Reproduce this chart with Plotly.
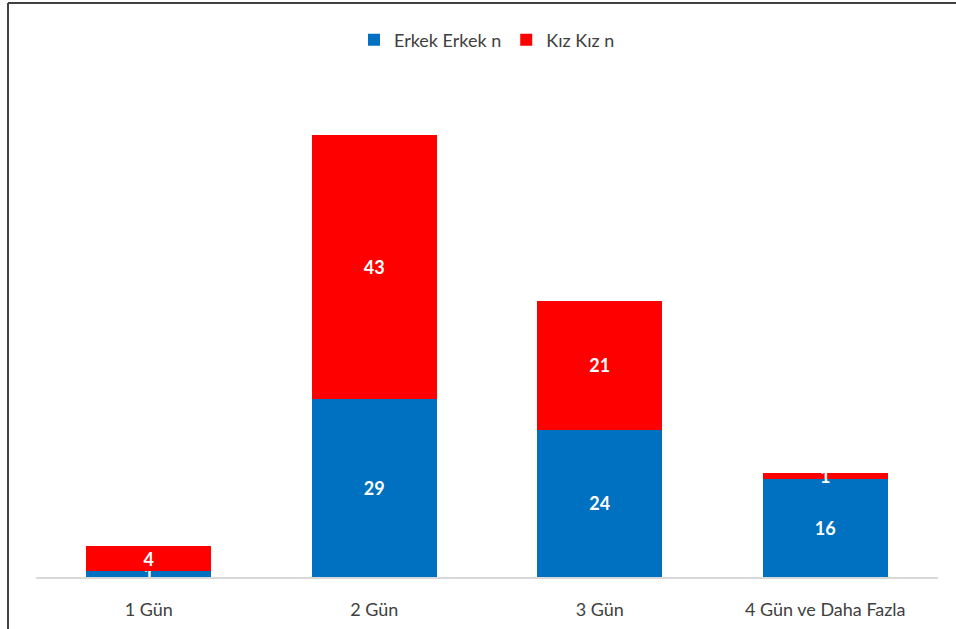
import plotly.graph_objects as go

categories = ["1 Gün", "2 Gün", "3 Gün", "4 Gün ve Daha Fazla"]
erkek = [1, 29, 24, 16]
kiz = [4, 43, 21, 1]
series_names = ["Erkek Erkek n", "Kız Kız n"]
colors = ["#0070C0", "#FF0000"]

fig = go.Figure()
for name, vals, col in zip(series_names, [erkek, kiz], colors):
    fig.add_trace(go.Bar(
        x=categories, y=vals, name=name,
        marker=dict(color=col, line=dict(width=0)),
        text=[str(v) for v in vals],
        textposition="inside", insidetextanchor="middle",
        constraintext="none", textangle=0,
        textfont=dict(family="Lato", size=18, color="white", weight="bold"),
    ))

fig.update_layout(
    barmode="stack", bargap=0.446,
    width=956, height=629,
    margin=dict(l=36, r=18, t=86, b=52, autoexpand=False),
    plot_bgcolor="white", paper_bgcolor="white",
    font=dict(family="Lato", size=18, color="#404040"),
    legend=dict(orientation="h", x=0.5, xanchor="center", yref="container",
                y=1 - 40 / 629, yanchor="middle",
                font=dict(family="Lato", size=18, color="#404040"),
                itemwidth=30, traceorder="normal"),
    xaxis=dict(showline=True, linecolor="#d9d9d9", linewidth=2, automargin=False,
               ticks="outside", ticklen=15, tickcolor="rgba(0,0,0,0)",
               tickfont=dict(family="Lato", size=18, color="#404040")),
    yaxis=dict(range=[0, 80], visible=False, showgrid=False, automargin=False),
    showlegend=True,
)

# Outer border (top and left edges of the cropped chart frame)
fig.add_shape(type="line", xref="paper", yref="paper",
              x0=(8 - 36) / 902, x1=1.05, y0=(577 - 3) / 491, y1=(577 - 3) / 491,
              line=dict(color="#404040", width=2))
fig.add_shape(type="line", xref="paper", yref="paper",
              x0=(8 - 36) / 902, x1=(8 - 36) / 902, y0=(577 - 3) / 491, y1=-0.2,
              line=dict(color="#404040", width=2))

fig.write_html("out.html")
